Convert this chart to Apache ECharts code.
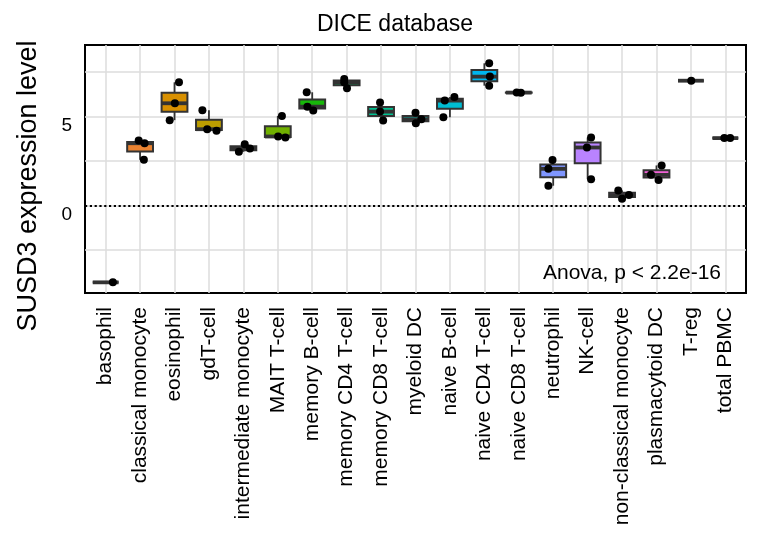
<!DOCTYPE html>
<html>
<head>
<meta charset="utf-8">
<script src="https://cdn.jsdelivr.net/npm/echarts@6/dist/echarts.min.js"></script>
<style>
html,body{margin:0;padding:0;background:#fff;}
#chart{width:762px;height:533px;}
</style>
</head>
<body>
<div id="chart"></div>
<script>
// ---- data ----
const categories = ['basophil','classical monocyte','eosinophil','gdT-cell','intermediate monocyte',
  'MAIT T-cell','memory B-cell','memory CD4 T-cell','memory CD8 T-cell','myeloid DC','naive B-cell',
  'naive CD4 T-cell','naive CD8 T-cell','neutrophil','NK-cell','non-classical monocyte',
  'plasmacytoid DC','T-reg','total PBMC'];
// expression values of the samples of each cell type
const sampleValues = [
  [-4.33],
  [3.65, 3.50, 2.57],
  [6.93, 5.75, 4.80],
  [5.36, 4.29, 4.20],
  [3.45, 3.20, 3.02],
  [5.04, 3.88, 3.82],
  [6.37, 5.56, 5.34],
  [7.12, 6.93, 6.60],
  [5.79, 5.28, 4.78],
  [5.22, 4.85, 4.63],
  [6.10, 5.90, 4.97],
  [8.00, 7.25, 6.74],
  [6.36, 6.34],
  [2.55, 2.06, 1.11],
  [3.82, 3.26, 1.48],
  [0.84, 0.58, 0.38],
  [2.25, 1.72, 1.43],
  [7.02],
  [3.79, 3.79]
];
// horizontal jitter of each sample (in category units)
const jitter = [
  [0.21],
  [-0.04, 0.13, 0.11],
  [0.13, 0.01, -0.14],
  [-0.19, -0.05, 0.22],
  [0.04, 0.19, -0.13],
  [0.12, 0.01, 0.22],
  [-0.16, -0.14, 0.03],
  [-0.07, -0.07, 0.01],
  [-0.03, -0.03, 0.06],
  [0.00, 0.17, 0.01],
  [0.13, -0.15, -0.19],
  [0.14, 0.16, 0.14],
  [-0.06, 0.06],
  [-0.02, -0.14, -0.14],
  [0.10, -0.02, 0.10],
  [-0.11, 0.20, 0.00],
  [0.15, -0.16, 0.06],
  [0.01],
  [-0.03, 0.14]
];
const yTickLabels = [0, 5];
const yGridValues = [-2.5, 0, 2.5, 5, 7.5];
const anovaLabel = 'Anova, p < 2.2e-16';

// ---- styles ----
const fillColors = ['#F8766D','#EA8331','#D89000','#BC9D00','#A1A600','#70B000','#17B80A','#00BD5F',
  '#00C08F','#00C1B3','#00BDD3','#00B5EE','#30A6FF','#7F96FF','#B983FF','#E26EF6','#F763DB','#FF63C0','#FF6A96'];
const FONT = '"Liberation Sans", Arial, Helvetica, sans-serif';

// ---- box statistics (R quantile type 7, Tukey whiskers) ----
function quant(s, p) {
  const h = (s.length - 1) * p, lo = Math.floor(h);
  if (lo + 1 >= s.length) return s[lo];
  return s[lo] + (h - lo) * (s[lo + 1] - s[lo]);
}
const boxData = sampleValues.map((vals, i) => {
  const s = vals.slice().sort((a, b) => a - b);
  const q1 = quant(s, 0.25), med = quant(s, 0.5), q3 = quant(s, 0.75);
  const iqr = q3 - q1;
  const lo = Math.min(...s.filter(v => v >= q1 - 1.5 * iqr));
  const hi = Math.max(...s.filter(v => v <= q3 + 1.5 * iqr));
  return [i, q1, med, q3, lo, hi];
});
const pointData = [];
sampleValues.forEach((vals, i) => vals.forEach((v, k) => pointData.push([i + jitter[i][k], v])));

const chart = echarts.init(document.getElementById('chart'), null, {renderer: 'canvas'});
const BOX_HALF = 0.375;
const option = {
  backgroundColor: '#ffffff',
  animation: false,
  textStyle: {fontFamily: FONT},
  title: [
    {text: 'DICE database', left: 312, top: 8,
     textStyle: {fontFamily: FONT, fontSize: 23, fontWeight: 'normal', color: '#000'}},
    {text: anovaLabel, right: 36, top: 258,
     textStyle: {fontFamily: FONT, fontSize: 21, fontWeight: 'normal', color: '#000'}}
  ],
  grid: {left: 85, top: 45, width: 661, height: 248, show: true, borderColor: '#000', borderWidth: 2,
         backgroundColor: 'transparent', containLabel: false},
  xAxis: {
    type: 'value', min: -0.6, max: 18.6,
    axisLine: {show: false},
    axisTick: {show: false, customValues: categories.map((c, i) => i)},
    splitLine: {show: true, lineStyle: {color: '#DCDCDC', width: 1.5}},
    axisLabel: {
      customValues: categories.map((c, i) => i),
      rotate: 90, margin: 14, fontSize: 21, color: '#000', fontFamily: FONT,
      formatter: v => categories[Math.round(v)]
    }
  },
  yAxis: {
    type: 'value', min: -4.93, max: 9.03,
    name: 'SUSD3 expression level', nameLocation: 'middle', nameGap: 43,
    nameTextStyle: {fontSize: 27, color: '#000', fontFamily: FONT, padding: [0, 34, 0, 0]},
    axisLine: {show: false},
    axisTick: {show: false, customValues: yGridValues},
    splitLine: {show: true, lineStyle: {color: '#DCDCDC', width: 1.5}},
    axisLabel: {customValues: yTickLabels, fontSize: 19, color: '#000', margin: 13,
                verticalAlign: 'top', fontFamily: FONT}
  },
  series: [
    {
      type: 'custom', z: 2,
      data: boxData,
      encode: {x: 0, y: [1, 2, 3, 4, 5]},
      renderItem: function (params, api) {
        const i = api.value(0), q1 = api.value(1), med = api.value(2), q3 = api.value(3),
              lo = api.value(4), hi = api.value(5);
        const tl = api.coord([i - BOX_HALF, q3]);
        const br = api.coord([i + BOX_HALF, q1]);
        const pHi = api.coord([i, hi]), pQ3 = api.coord([i, q3]);
        const pLo = api.coord([i, lo]), pQ1 = api.coord([i, q1]);
        const mL = api.coord([i - BOX_HALF, med]), mR = api.coord([i + BOX_HALF, med]);
        const edge = {stroke: '#333333', lineWidth: 1.8};
        return {type: 'group', children: [
          {type: 'line', shape: {x1: pHi[0], y1: pHi[1], x2: pQ3[0], y2: pQ3[1]}, style: edge},
          {type: 'line', shape: {x1: pLo[0], y1: pLo[1], x2: pQ1[0], y2: pQ1[1]}, style: edge},
          {type: 'rect', shape: {x: tl[0], y: tl[1], width: br[0] - tl[0], height: br[1] - tl[1]},
           style: {fill: fillColors[i], stroke: '#333333', lineWidth: 2}},
          {type: 'line', shape: {x1: mL[0], y1: mL[1], x2: mR[0], y2: mR[1]},
           style: {stroke: '#333333', lineWidth: 3.8}}
        ]};
      }
    },
    {
      type: 'scatter', z: 3,
      data: pointData,
      symbol: 'circle', symbolSize: 8,
      itemStyle: {color: '#000', opacity: 1},
      markLine: {
        silent: true, symbol: 'none', label: {show: false},
        lineStyle: {color: '#000', type: [2.2, 2.6], width: 2.2},
        data: [{yAxis: 0}]
      }
    }
  ]
};
chart.setOption(option);
</script>
</body>
</html>
